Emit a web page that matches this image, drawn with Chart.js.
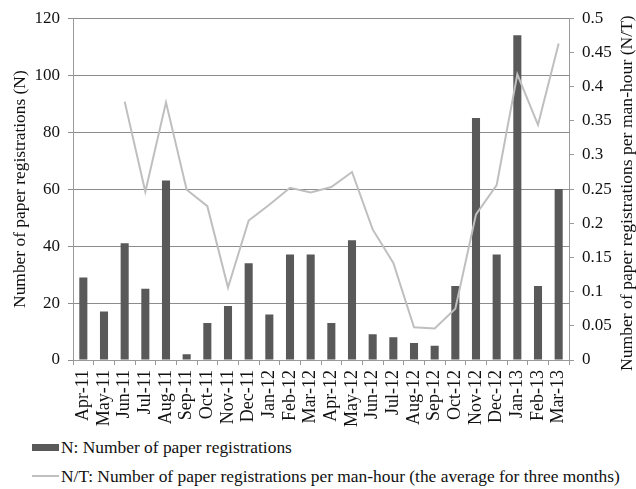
<!DOCTYPE html>
<html>
<head>
<meta charset="utf-8">
<script src="https://cdn.jsdelivr.net/npm/chart.js@4"></script>
<style>
  body { margin: 0; background: #fff; }
  #wrap { position: relative; width: 636px; height: 489px; font-family: 'Liberation Serif'; }
  #chart { position: absolute; left: 0; top: 0; }
  .leg { position: absolute; left: 32px; font-family: 'Liberation Serif'; font-size: 17.4px; color: #111; white-space: nowrap; line-height: 20px; }
  .leg span.box { display: inline-block; width: 27px; height: 7px; background: #595959; vertical-align: middle; margin-right: 2px; position: relative; top: -2px; }
  .leg span.ln { display: inline-block; width: 27px; height: 2px; background: #bfbfbf; vertical-align: middle; margin-right: 2px; position: relative; top: -2px; }
</style>
</head>
<body>
<div id="wrap">
  <canvas id="chart" width="636" height="432"></canvas>
  <div class="leg" style="top:437px"><span class="box"></span>N: Number of paper registrations</div>
  <div class="leg" style="top:466px"><span class="ln"></span>N/T: Number of paper registrations per man-hour (the average for three months)</div>
</div>
<script>
  const months = ['Apr-11', 'May-11', 'Jun-11', 'Jul-11', 'Aug-11', 'Sep-11', 'Oct-11', 'Nov-11', 'Dec-11',
    'Jan-12', 'Feb-12', 'Mar-12', 'Apr-12', 'May-12', 'Jun-12', 'Jul-12', 'Aug-12', 'Sep-12', 'Oct-12',
    'Nov-12', 'Dec-12', 'Jan-13', 'Feb-13', 'Mar-13'];
  const registrations = [29, 17, 41, 25, 63, 2, 13, 19, 34, 16, 37, 37, 13, 42, 9, 8, 6, 5, 26, 85, 37, 114, 26, 60];
  const perManHour = [null, null, 0.378, 0.246, 0.377, 0.249, 0.225, 0.106, 0.204, 0.227, 0.252, 0.245,
    0.253, 0.275, 0.191, 0.142, 0.048, 0.046, 0.075, 0.213, 0.256, 0.418, 0.344, 0.463];
  const leftTitle = 'Number of paper registrations (N)';
  const rightTitle = 'Number of paper registrations per man-hour (N/T)';

  const fontFamily = 'Liberation Serif';
  Chart.defaults.font.family = fontFamily;
  Chart.defaults.font.size = 17;
  Chart.defaults.color = '#111';

  const gridColor = '#8c8c8c';
  const axisColor = '#9a9a9a';

  // right axis title reads bottom-to-top, Chart.js would rotate it the other way
  const rightTitlePlugin = {
    id: 'rightTitle',
    afterDraw(chart) {
      const { ctx, chartArea } = chart;
      ctx.save();
      ctx.translate(627, (chartArea.top + chartArea.bottom) / 2 + 4);
      ctx.rotate(-Math.PI / 2);
      ctx.font = "17.6px 'Liberation Serif'";
      ctx.fillStyle = '#111';
      ctx.textAlign = 'center';
      ctx.textBaseline = 'middle';
      ctx.fillText(rightTitle, 0, 0);
      ctx.restore();
    }
  };

  const ctx = document.getElementById('chart').getContext('2d');
  new Chart(ctx, {
    type: 'bar',
    data: {
      labels: months,
      datasets: [{
        label: 'N',
        data: registrations,
        backgroundColor: '#595959',
        yAxisID: 'y',
        barPercentage: 0.5,
        categoryPercentage: 0.78,
        order: 1
      }, {
        type: 'line',
        label: 'N/T',
        data: perManHour,
        borderColor: '#bfbfbf',
        borderWidth: 2,
        pointRadius: 0,
        tension: 0,
        yAxisID: 'y1',
        order: 0
      }]
    },
    options: {
      responsive: false,
      animation: false,
      layout: { padding: { top: 15, left: 0, right: 0, bottom: 0 } },
      plugins: {
        legend: { display: false },
        tooltip: { enabled: false }
      },
      scales: {
        x: {
          offset: true,
          grid: { offset: true, drawOnChartArea: false, color: axisColor, tickLength: 5 },
          border: { color: axisColor },
          ticks: { maxRotation: 90, minRotation: 90, autoSkip: false, padding: 5, font: { size: 18 } },
          afterFit(scale) { scale.height = 72; }
        },
        y: {
          position: 'left',
          min: 0,
          max: 120,
          ticks: { stepSize: 20, padding: 8 },
          grid: { color: gridColor, tickLength: 5 },
          border: { color: axisColor },
          title: { display: true, text: leftTitle, font: { size: 17.4 }, padding: { top: 10, bottom: 0 } },
          afterFit(scale) { scale.width = 73; }
        },
        y1: {
          position: 'right',
          min: 0,
          max: 0.5,
          ticks: {
            stepSize: 0.05,
            padding: 8,
            callback: (v) => String(parseFloat(v.toFixed(2)))
          },
          grid: { drawOnChartArea: false, color: axisColor, tickLength: 5 },
          border: { color: axisColor },
          afterFit(scale) { scale.width = 67; }
        }
      }
    },
    plugins: [rightTitlePlugin]
  });
</script>
</body>
</html>
